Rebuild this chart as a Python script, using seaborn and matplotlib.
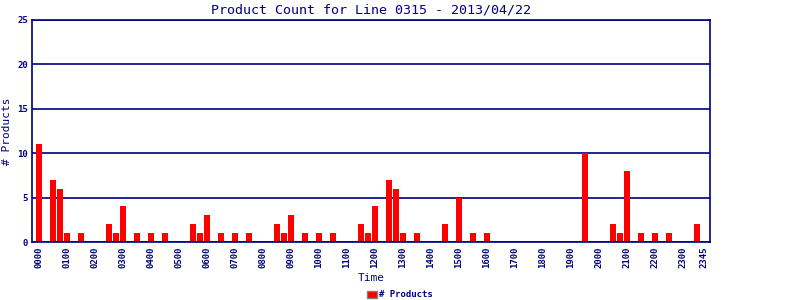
import matplotlib
matplotlib.use("Agg")
import matplotlib.pyplot as plt
import seaborn as sns
import pandas as pd
import numpy as np
from matplotlib.patches import Patch

# 96 fifteen-minute slots (0000 .. 2345)
times = [f"{h:02d}{m:02d}" for h in range(24) for m in (0, 15, 30, 45)]
# non-zero counts by slot index
nonzero_slots = [0, 2, 3, 4, 6, 10, 11, 12, 14, 16, 18, 22, 23, 24, 26, 28, 30,
                 34, 35, 36, 38, 40, 42, 46, 47, 48, 50, 51, 52, 54, 58, 60, 62, 64,
                 78, 82, 83, 84, 86, 88, 90, 94]
nonzero_counts = [11, 7, 6, 1, 1, 2, 1, 4, 1, 1, 1, 2, 1, 3, 1, 1, 1,
                  2, 1, 3, 1, 1, 1, 2, 1, 4, 7, 6, 1, 1, 2, 5, 1, 1,
                  10, 2, 1, 8, 1, 1, 1, 2]
counts = [0] * len(times)
for s, c in zip(nonzero_slots, nonzero_counts):
    counts[s] = c

tick_labels = [t for i, t in enumerate(times) if i % 4 == 0] + ["2345"]

NAVY = "#000080"
sns.set_theme(style="white")
plt.rcParams['font.family'] = ['DejaVu Sans Mono', 'DejaVu Sans']

df = pd.DataFrame({"Time": times, "Count": counts})

fig = plt.figure(figsize=(8, 3), dpi=100)
ax = fig.add_axes([32/800, 1 - 242/300, (710 - 32)/800, (242 - 20)/300])

sns.barplot(data=df, x="Time", y="Count", order=times, color="#FF0000",
            saturation=1, width=0.86, ax=ax)
for p in ax.patches:
    p.set_edgecolor("none")

ax.set_xlim(-1, 95.9)
ax.set_ylim(0, 25)
ax.set_yticks([0, 5, 10, 15, 20, 25])
ax.yaxis.grid(True, color=NAVY, linewidth=1.2)
ax.set_axisbelow(True)
tick_pos = [times.index(t) for t in tick_labels]
ax.set_xticks(tick_pos)
ax.set_xticklabels(tick_labels, rotation=90, fontsize=6.5, color=NAVY, fontweight="bold")
for lab in ax.get_yticklabels():
    lab.set_fontsize(6.5)
    lab.set_color(NAVY)
    lab.set_fontweight("bold")
ax.tick_params(axis="both", length=0, pad=3)
for sp in ax.spines.values():
    sp.set_color(NAVY)
    sp.set_linewidth(1.2)
    sp.set_visible(True)

ax.set_xlabel("Time", fontsize=8, color=NAVY, labelpad=4)
ax.set_ylabel("# Products", fontsize=8, color=NAVY, labelpad=4)
ax.set_title("Product Count for Line 0315 - 2013/04/22", fontsize=9.6, color=NAVY, pad=5)

handle = Patch(facecolor="#FF0000", edgecolor="gray", linewidth=1)
fig.legend([handle], ["# Products"], loc="lower center", bbox_to_anchor=(0.5, -0.025),
           frameon=False, handlelength=1.1, handleheight=0.9,
           handletextpad=0.3, labelcolor=NAVY, prop={"weight": "bold", "size": 6.5})

fig.savefig("out.png", dpi=100, facecolor="white")
